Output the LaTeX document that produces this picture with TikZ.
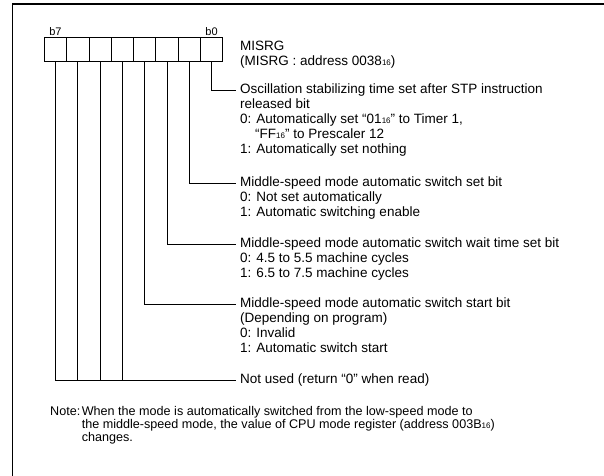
\documentclass[tikz,border=0pt]{standalone}
\usepackage{fontspec}
\setmainfont{Liberation Sans}
\usetikzlibrary{positioning}
\newcommand{\radix}[1]{{\fontsize{8}{8}\selectfont #1}}
\tikzset{
  cell/.style={draw,line width=0.8pt,minimum width=22.3pt,minimum height=24pt,inner sep=0pt,outer sep=0pt},
  heading/.style={anchor=west,inner xsep=4pt,inner ysep=0pt,font=\fontsize{13.5}{15}\selectfont},
  info/.style={align=left,inner xsep=4pt,inner ysep=0pt,font=\fontsize{13.5}{15}\selectfont},
  bitlabel/.style={font=\fontsize{11}{11}\selectfont,inner sep=1pt},
  wire/.style={line width=0.8pt}
}

\begin{document}
\begin{tikzpicture}[x=1pt,y=-1pt]
\useasboundingbox (0,0) rectangle (604,475);
\draw[line width=1.6pt] (12.5,477) |- (606,4);
% register cells, b7 at the left
\foreach \i in {0,...,7}
  \node[cell] (bit\i) at ({211.55-22.3*\i},49) {};
\node[bitlabel,above] (lb7) at (bit7.north) {b7};
\node[bitlabel,above] (lb0) at (bit0.north) {b0};
\node[heading] (name) at (236,46) {MISRG};
\node[heading] (addr) at (236,62) {(MISRG : address 0038\radix{16})};
% bit descriptions
\node[heading] (osc) at (236,90) {Oscillation stabilizing time set after STP instruction};
\node[info,below=2.3pt of osc.south west,anchor=north west] (oscinfo)
  {released bit\\0: Automatically set “01\radix{16}” to Timer 1,\\\hphantom{0:\ }“FF\radix{16}” to Prescaler 12\\1: Automatically set nothing};
\node[heading] (setb) at (236,183) {Middle-speed mode automatic switch set bit};
\node[info,below=2.3pt of setb.south west,anchor=north west] (setinfo)
  {0: Not set automatically\\1: Automatic switching enable};
\node[heading] (waitb) at (236,244) {Middle-speed mode automatic switch wait time set bit};
\node[info,below=2.3pt of waitb.south west,anchor=north west] (waitinfo)
  {0: 4.5 to 5.5 machine cycles\\1: 6.5 to 7.5 machine cycles};
\node[heading] (startb) at (236,304) {Middle-speed mode automatic switch start bit};
\node[info,below=2.3pt of startb.south west,anchor=north west] (startinfo)
  {(Depending on program)\\0: Invalid\\1: Automatic switch start};
\node[heading] (unused) at (236,380) {Not used (return “0” when read)};
% connectors
\draw[wire] (bit0.south) |- (osc.west);
\draw[wire] (bit1.south) |- (setb.west);
\draw[wire] (bit2.south) |- (waitb.west);
\draw[wire] (bit3.south) |- (startb.west);
\foreach \i in {4,...,7}
  \draw[wire] (bit\i.south) |- (unused.west);
% note
\node[anchor=north west,inner sep=0pt,font=\fontsize{12.6}{12.5}\selectfont] (note) at (50,406)
  {\begin{tabular}{@{}l@{\hspace{1.5pt}}l@{}}
   Note: & When the mode is automatically switched from the low-speed mode to\\
         & the middle-speed mode, the value of CPU mode register (address 003B\radix{16})\\
         & changes.
   \end{tabular}};
\end{tikzpicture}
\end{document}
